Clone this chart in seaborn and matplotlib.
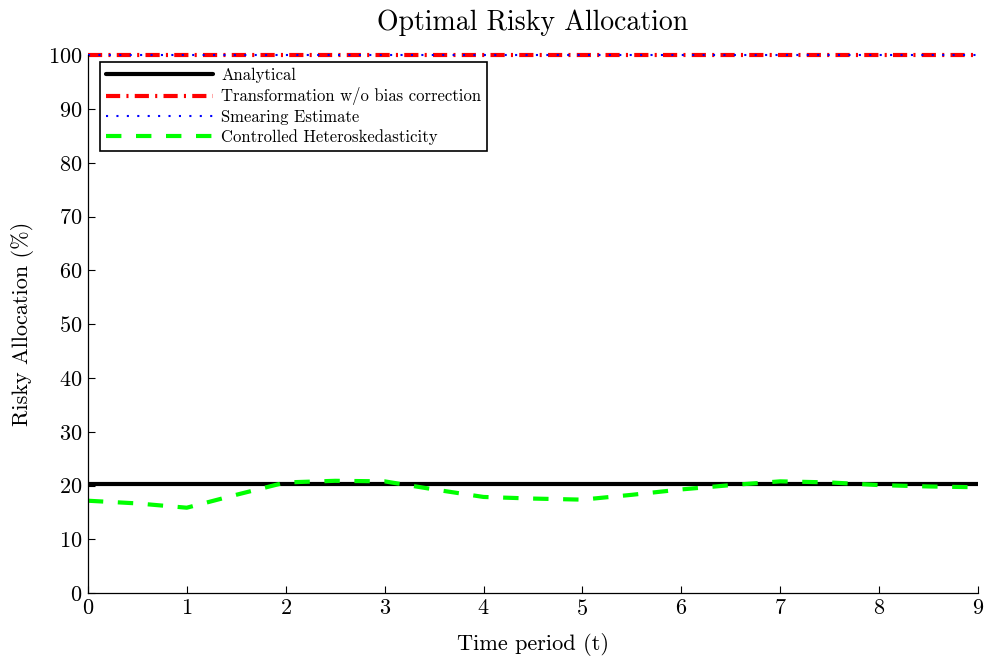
import numpy as np
import pandas as pd
import matplotlib
matplotlib.use("Agg")
import matplotlib.pyplot as plt
import seaborn as sns

# values
t = [0, 0.5, 1, 1.5, 2, 2.5, 3, 3.5, 4, 4.5, 5, 5.5, 6, 6.5, 7, 7.5, 8, 8.5, 9]
analytical = [20.3] * len(t)
transformation = [100.0] * len(t)
smearing = [100.0] * len(t)
controlled = [17.2, 16.7, 15.9, 18.3, 20.6, 20.9, 20.8, 19.3, 17.9, 17.6,
              17.4, 18.3, 19.3, 20.1, 20.8, 20.6, 20.1, 19.85, 19.7]

labels = ["Analytical", "Transformation w/o bias correction",
          "Smearing Estimate", "Controlled Heteroskedasticity"]

sns.set_style("ticks")
plt.rcParams["font.family"] = ["cmr10", "DejaVu Serif"]
plt.rcParams["axes.formatter.use_mathtext"] = True
plt.rcParams["xtick.direction"] = "in"
plt.rcParams["ytick.direction"] = "in"
plt.rcParams["text.color"] = "black"
plt.rcParams["axes.labelcolor"] = "black"

fig = plt.figure(figsize=(9.87, 6.57), dpi=100)
ax = fig.add_axes([0.089, 0.097, 0.902, 0.819])

sns.lineplot(x=t, y=analytical, ax=ax, color="black", lw=3, label=labels[0])
sns.lineplot(x=t, y=transformation, ax=ax, color="red", lw=3,
             linestyle=(0, (3.4, 1.5, 0.5, 1.5)), label=labels[1], clip_on=False)
sns.lineplot(x=t, y=smearing, ax=ax, color="blue", lw=1.5,
             linestyle=(0, (1, 4)), label=labels[2], clip_on=False)
sns.lineplot(x=t, y=controlled, ax=ax, color="#00ff00", lw=3,
             linestyle=(0, (3.7, 3.5)), label=labels[3])

ax.set_xlim(0, 9)
ax.set_ylim(0, 100)
ax.set_xticks(range(0, 10))
ax.set_yticks(range(0, 101, 10))
ax.tick_params(labelsize=16, length=5, width=0.8, colors="black", pad=4)
for s in ["top", "right"]:
    ax.spines[s].set_visible(False)
for s in ["left", "bottom"]:
    ax.spines[s].set_linewidth(0.9)
    ax.spines[s].set_color("black")

ax.set_xlabel("Time period (t)", fontsize=16, labelpad=10)
ax.set_ylabel("Risky Allocation (%)", fontsize=16, labelpad=10)
ax.set_title("Optimal Risky Allocation", fontsize=20, pad=18)

leg = ax.legend(loc="upper left", bbox_to_anchor=(0.014, 0.987), fontsize=12,
                frameon=True, fancybox=False, edgecolor="black", framealpha=1,
                handlelength=6.4, borderpad=0.35, labelspacing=0.25,
                handletextpad=0.5, borderaxespad=0)
leg.get_frame().set_linewidth(1.2)

fig.savefig("out.png", dpi=100)
